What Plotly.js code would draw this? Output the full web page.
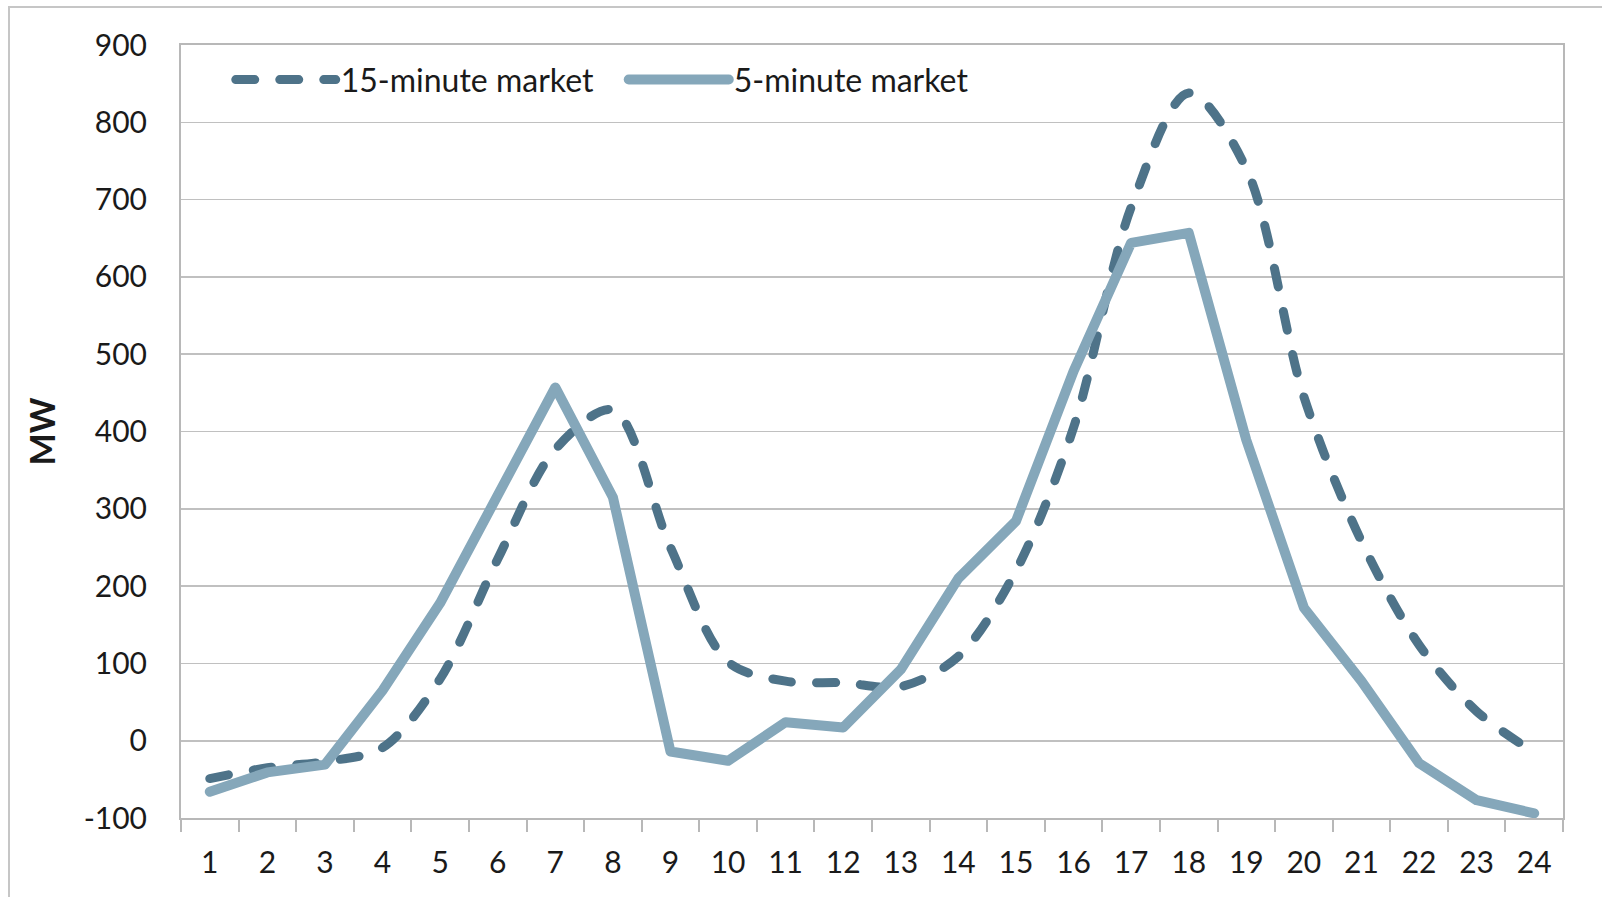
<!DOCTYPE html>
<html>
<head>
<meta charset="utf-8">
<script src="https://cdn.plot.ly/plotly-3.0.1.min.js"></script>
<style>
  body { margin: 0; padding: 0; background: #fff; overflow: hidden; }
  #wrap { position: relative; width: 1602px; height: 897px; }
  #frame { position: absolute; left: 8px; top: 6px; width: 1700px; height: 1000px;
           border-left: 2px solid #c6c6c6; border-top: 2px solid #c6c6c6; pointer-events: none; }
  #chart { position: absolute; left: 0; top: 0; width: 1602px; height: 897px; }
  .js-line { stroke-linecap: round; stroke-linejoin: round; }
</style>
</head>
<body>
<div id="wrap">
  <div id="chart"></div>
  <div id="frame"></div>
</div>
<script>
const hours = ["1","2","3","4","5","6","7","8","9","10","11","12","13","14","15","16","17","18","19","20","21","22","23","24"];
const fifteenMinute = [-49, -35, -27, -9, 80, 235, 377, 428, 250, 102, 77, 75, 70, 109, 220, 405, 690, 838, 740, 445, 258, 124, 38, -15];
const fiveMinute = [-66, -41, -31, 65, 178, 320, 457, 315, -14, -26, 24, 17, 92, 210, 284, 478, 644, 657, 389, 172, 77, -29, -77, -94];
const yTicks = [-100, 0, 100, 200, 300, 400, 500, 600, 700, 800, 900];
const names = ["15-minute market", "5-minute market"];

const fontFam = "Lato, 'Open Sans', sans-serif";

const traces = [
  {
    x: hours, y: fifteenMinute, name: names[0], type: "scatter", mode: "lines",
    line: { color: "#4e7389", width: 9, dash: "19px,25px", shape: "spline", smoothing: 0.9 }
  },
  {
    x: hours, y: fiveMinute, name: names[1], type: "scatter", mode: "lines",
    line: { color: "#85a7ba", width: 10 }
  }
];

const layout = {
  width: 1602, height: 897,
  margin: { l: 181, r: 39, t: 45, b: 79 },
  paper_bgcolor: "#ffffff", plot_bgcolor: "#ffffff",
  font: { family: fontFam, size: 30, color: "#1a1a1a" },
  showlegend: true,
  legend: {
    orientation: "h", x: 0.036, y: 0.955, xanchor: "left", yanchor: "middle",
    font: { family: fontFam, size: 32, color: "#1a1a1a" },
    itemwidth: 100, entrywidth: 278, bgcolor: "rgba(0,0,0,0)", traceorder: "normal", tracegroupgap: 0
  },
  xaxis: {
    type: "category", range: [-0.5, 23.5],
    showgrid: false, zeroline: false,
    showline: true, linecolor: "#b8b8b8", linewidth: 2, mirror: true,
    ticks: "outside", tickson: "boundaries", ticklen: 12, tickcolor: "#b8b8b8", tickwidth: 2,
    ticklabelstandoff: 17,
    tickfont: { family: fontFam, size: 30, color: "#1a1a1a" },
    fixedrange: true
  },
  yaxis: {
    range: [-100, 900], tickvals: yTicks, ticktext: yTicks.map(String),
    showgrid: true, gridcolor: "#c0c0c0", gridwidth: 1.6,
    zeroline: false,
    showline: true, linecolor: "#b8b8b8", linewidth: 2, mirror: true,
    ticks: "", ticklabelstandoff: 26,
    tickfont: { family: fontFam, size: 30, color: "#1a1a1a" },
    title: { text: "<b>MW</b>", font: { family: fontFam, size: 34, color: "#1a1a1a" }, standoff: 18 },
    automargin: false,
    fixedrange: true
  }
};

Plotly.newPlot("chart", traces, layout, { displayModeBar: false, staticPlot: true });
</script>
</body>
</html>
